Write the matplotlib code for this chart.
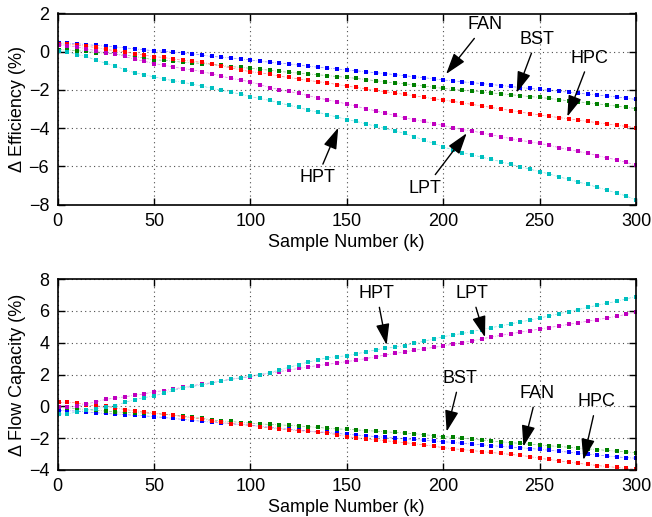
import numpy as np
import matplotlib
matplotlib.use("Agg")
import matplotlib.pyplot as plt

plt.rcParams['font.family'] = ['Liberation Sans', 'DejaVu Sans']
plt.rcParams['font.size'] = 13

samples = np.r_[1, np.arange(5, 301, 5)]

# Top panel: change in efficiency (%)
fan_eff = [0.45,0.45,0.42,0.37,0.33,0.29,0.25,0.20,0.15,0.10,0.05,
           0.03,-0.02,-0.06,-0.11,-0.18,-0.25,-0.28,-0.33,-0.38,-0.43,
           -0.50,-0.55,-0.60,-0.64,-0.70,-0.76,-0.81,-0.86,-0.90,-0.96,
           -1.00,-1.05,-1.10,-1.15,-1.20,-1.26,-1.31,-1.36,-1.42,-1.48,
           -1.52,-1.58,-1.62,-1.67,-1.72,-1.77,-1.82,-1.88,-1.92,-1.97,
           -2.02,-2.07,-2.12,-2.17,-2.22,-2.27,-2.32,-2.37,-2.43,-2.50]
bst_eff = [0.10,0.10,0.05,0.02,-0.05,-0.08,-0.12,-0.18,-0.25,-0.33,-0.43,
           -0.45,-0.50,-0.55,-0.58,-0.62,-0.67,-0.72,-0.78,-0.82,-0.87,
           -0.92,-0.97,-1.03,-1.08,-1.12,-1.16,-1.21,-1.25,-1.30,-1.34,
           -1.40,-1.46,-1.52,-1.58,-1.63,-1.68,-1.74,-1.80,-1.86,-1.92,
           -1.97,-2.02,-2.06,-2.11,-2.16,-2.20,-2.25,-2.30,-2.35,-2.39,
           -2.45,-2.51,-2.57,-2.62,-2.68,-2.73,-2.79,-2.85,-2.91,-2.98]
hpc_eff = [0.40,0.38,0.35,0.28,0.22,0.12,0.05,0.00,-0.10,-0.18,-0.26,
           -0.30,-0.38,-0.45,-0.50,-0.56,-0.65,-0.75,-0.85,-0.95,-1.05,
           -1.10,-1.18,-1.28,-1.35,-1.42,-1.50,-1.57,-1.63,-1.72,-1.80,
           -1.87,-1.95,-2.02,-2.10,-2.16,-2.24,-2.31,-2.38,-2.46,-2.53,
           -2.60,-2.68,-2.76,-2.84,-2.92,-3.00,-3.08,-3.16,-3.24,-3.31,
           -3.38,-3.45,-3.51,-3.58,-3.65,-3.72,-3.78,-3.85,-3.91,-3.98]
lpt_eff = [0.33,0.32,0.25,0.15,0.05,-0.05,-0.12,-0.25,-0.40,-0.50,-0.62,
           -0.70,-0.80,-0.88,-0.95,-1.05,-1.15,-1.28,-1.40,-1.48,-1.58,
           -1.72,-1.88,-1.98,-2.08,-2.18,-2.30,-2.42,-2.52,-2.62,-2.74,
           -2.86,-2.98,-3.10,-3.22,-3.34,-3.46,-3.56,-3.65,-3.76,-3.86,
           -3.98,-4.08,-4.15,-4.25,-4.35,-4.45,-4.55,-4.64,-4.72,-4.80,
           -4.90,-5.02,-5.12,-5.22,-5.32,-5.44,-5.56,-5.66,-5.80,-5.93]
hpt_eff = [0.02,0.00,-0.15,-0.25,-0.45,-0.60,-0.75,-0.95,-1.10,-1.20,-1.32,
           -1.42,-1.52,-1.60,-1.70,-1.80,-1.92,-2.02,-2.12,-2.22,-2.35,
           -2.45,-2.55,-2.68,-2.80,-2.92,-3.05,-3.17,-3.30,-3.42,-3.55,
           -3.65,-3.78,-3.90,-4.02,-4.14,-4.28,-4.45,-4.62,-4.80,-4.98,
           -5.14,-5.28,-5.40,-5.52,-5.64,-5.76,-5.90,-6.02,-6.15,-6.28,
           -6.40,-6.55,-6.68,-6.82,-6.95,-7.10,-7.25,-7.40,-7.56,-7.76]

# Bottom panel: change in flow capacity (%)
fan_fc = [-0.27,-0.27,-0.30,-0.35,-0.40,-0.45,-0.48,-0.52,-0.56,-0.60,-0.65,
          -0.70,-0.76,-0.82,-0.88,-0.94,-1.00,-1.05,-1.10,-1.14,-1.18,
          -1.25,-1.32,-1.38,-1.44,-1.50,-1.55,-1.60,-1.64,-1.70,-1.76,
          -1.80,-1.85,-1.90,-1.95,-2.00,-2.04,-2.08,-2.13,-2.18,-2.22,
          -2.27,-2.32,-2.37,-2.42,-2.47,-2.52,-2.56,-2.60,-2.65,-2.70,
          -2.76,-2.82,-2.88,-2.94,-3.00,-3.06,-3.12,-3.18,-3.22,-3.26]
bst_fc = [-0.05,-0.08,-0.15,-0.20,-0.25,-0.30,-0.35,-0.38,-0.40,-0.42,-0.45,
          -0.50,-0.55,-0.62,-0.70,-0.75,-0.85,-0.92,-0.95,-1.02,-1.05,
          -1.10,-1.14,-1.16,-1.20,-1.23,-1.28,-1.32,-1.38,-1.42,-1.44,
          -1.48,-1.52,-1.56,-1.60,-1.64,-1.68,-1.72,-1.78,-1.84,-1.90,
          -1.95,-2.00,-2.06,-2.12,-2.18,-2.23,-2.28,-2.33,-2.38,-2.43,
          -2.48,-2.52,-2.57,-2.62,-2.67,-2.72,-2.77,-2.82,-2.86,-2.91]
hpc_fc = [0.25,0.25,0.22,0.10,0.02,0.00,-0.10,-0.20,-0.28,-0.35,-0.42,
          -0.50,-0.55,-0.65,-0.72,-0.80,-0.90,-1.00,-1.08,-1.14,-1.20,
          -1.28,-1.36,-1.42,-1.48,-1.52,-1.58,-1.62,-1.68,-1.78,-1.90,
          -1.98,-2.04,-2.10,-2.16,-2.22,-2.28,-2.35,-2.42,-2.50,-2.60,
          -2.66,-2.72,-2.78,-2.84,-2.90,-2.96,-3.02,-3.08,-3.16,-3.26,
          -3.34,-3.42,-3.50,-3.58,-3.65,-3.72,-3.78,-3.84,-3.90,-3.96]
lpt_fc = [-0.02,-0.02,0.00,0.15,0.28,0.44,0.52,0.60,0.70,0.78,0.92,
          0.98,1.08,1.20,1.30,1.41,1.48,1.60,1.70,1.78,1.87,
          1.98,2.08,2.18,2.28,2.38,2.48,2.56,2.64,2.72,2.81,
          2.90,3.00,3.12,3.22,3.32,3.42,3.52,3.62,3.70,3.80,
          3.90,4.00,4.12,4.24,4.36,4.46,4.56,4.66,4.76,4.85,
          4.95,5.05,5.15,5.25,5.35,5.45,5.55,5.66,5.78,5.90]
hpt_fc = [-0.48,-0.48,-0.35,-0.25,-0.15,-0.05,0.05,0.25,0.42,0.55,0.65,
          0.82,1.00,1.15,1.25,1.35,1.45,1.60,1.70,1.80,1.90,
          2.00,2.12,2.28,2.45,2.62,2.78,2.92,3.06,3.12,3.18,
          3.30,3.42,3.55,3.65,3.72,3.82,3.95,4.10,4.22,4.38,
          4.48,4.58,4.70,4.82,4.95,5.05,5.18,5.30,5.42,5.55,
          5.68,5.82,5.95,6.08,6.22,6.35,6.48,6.60,6.75,6.90]

components = ['FAN', 'BST', 'HPC', 'LPT', 'HPT']
colors = {'FAN': (0, 0, 1), 'BST': (0, 0.5, 0), 'HPC': (1, 0, 0),
          'LPT': (0.75, 0, 0.75), 'HPT': (0, 0.75, 0.75)}
eff = {'FAN': fan_eff, 'BST': bst_eff, 'HPC': hpc_eff, 'LPT': lpt_eff, 'HPT': hpt_eff}
fc = {'FAN': fan_fc, 'BST': bst_fc, 'HPC': hpc_fc, 'LPT': lpt_fc, 'HPT': hpt_fc}

# annotation: (label, text x, text y, tip x, tip y) in data coords
eff_notes = [('FAN', 221.7, 1.40, 201.5, -1.17),
             ('BST', 248.5, 0.65, 238.1, -2.15),
             ('HPC', 276.1, -0.33, 264.4, -3.40),
             ('HPT', 134.6, -6.61, 145.6, -3.98),
             ('LPT', 190.6, -7.14, 212.2, -4.27)]
fc_notes = [('HPT', 165.5, 7.10, 170.7, 3.85),
            ('LPT', 214.8, 7.10, 221.7, 4.34),
            ('BST', 208.7, 1.76, 201.8, -1.59),
            ('FAN', 248.5, 0.82, 241.6, -2.53),
            ('HPC', 279.6, 0.29, 272.7, -3.37)]

W, H = 652, 517
fig = plt.figure(figsize=(W / 100, H / 100), dpi=100)
left = 57.5 / W
width = (636 - 57.5) / W
ax1 = fig.add_axes([left, 1 - 204.5 / H, width, (204.5 - 13.5) / H])
ax2 = fig.add_axes([left, 1 - 470 / H, width, (470 - 279) / H])


def style(ax, ylim, yticks, ylabel, data, notes):
    for c in components:
        ax.plot(samples, data[c], linestyle=(0, (4, 2, 1, 2)), linewidth=0.5,
                color=colors[c], alpha=0.5)
        ax.plot(samples, data[c], linestyle='none', color=colors[c],
                marker='s', markersize=2.6, markeredgewidth=0)
    ax.set_xlim(0, 300)
    ax.set_ylim(*ylim)
    ax.set_xticks(np.arange(0, 301, 50))
    ax.set_yticks(yticks)
    ax.grid(True, linestyle=(0, (1, 3)), color='0.3', linewidth=0.8)
    ax.tick_params(direction='in', top=True, right=True, length=5, width=1,
                   labelsize=13, pad=6)
    for s in ax.spines.values():
        s.set_linewidth(1.2)
    ax.set_xlabel('Sample Number (k)', fontsize=13, labelpad=3)
    ax.set_ylabel(ylabel, fontsize=13, labelpad=2)
    for lab, tx, ty, px, py in notes:
        ax.annotate(lab, xy=(px, py), xytext=(tx, ty), ha='center', va='center',
                    fontsize=13,
                    arrowprops=dict(arrowstyle='-|>,head_length=1.0,head_width=0.32',
                                    color='black', lw=1.0, shrinkA=2, shrinkB=0))


style(ax1, (-8, 2), np.arange(-8, 3, 2), '\u0394 Efficiency (%)', eff, eff_notes)
style(ax2, (-4, 8), np.arange(-4, 9, 2), '\u0394 Flow Capacity (%)', fc, fc_notes)

fig.savefig('out.png', dpi=100)
